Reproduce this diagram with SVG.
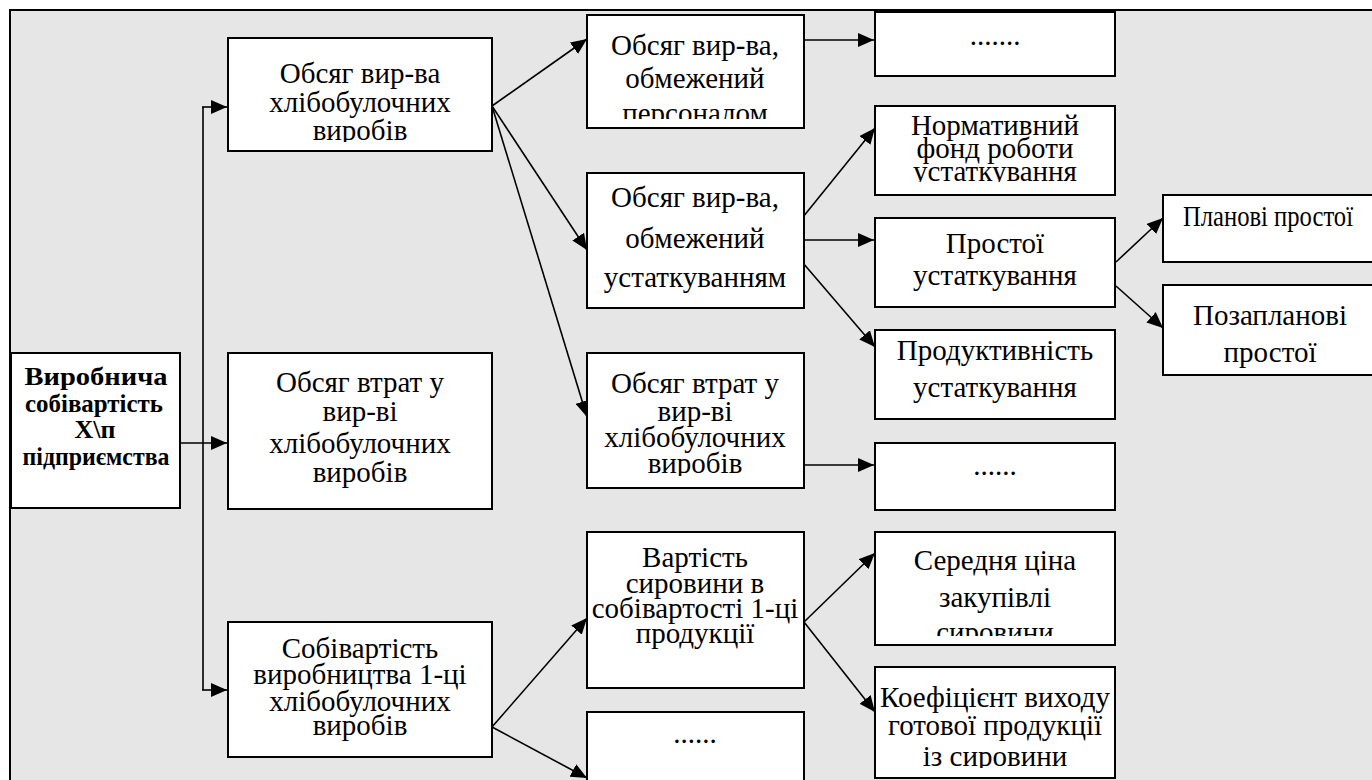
<svg xmlns="http://www.w3.org/2000/svg" width="1372" height="780" viewBox="0 0 1372 780">
<style>
.box{fill:#fff;stroke:#000;stroke-width:2}
.t{font-family:'Liberation Serif','Times New Roman',serif;font-size:29px;fill:#000;text-anchor:middle}
.b{font-family:'Liberation Serif','Times New Roman',serif;font-size:26px;font-weight:bold;fill:#000;text-anchor:middle}
.c{fill:none;stroke:#000;stroke-width:1.6}
</style>
<defs>
<marker id="ah" markerUnits="userSpaceOnUse" markerWidth="17" markerHeight="14" refX="16" refY="7" orient="auto">
<path d="M0,0 L16,7 L0,14 z" fill="#000"/>
</marker>
<clipPath id="cA"><rect x="228" y="38" width="264" height="104"/></clipPath>
<clipPath id="cD"><rect x="587" y="15" width="217" height="104"/></clipPath>
<clipPath id="cF"><rect x="587" y="353" width="217" height="123"/></clipPath>
<clipPath id="cJ"><rect x="875" y="106" width="240" height="76"/></clipPath>
<clipPath id="cN"><rect x="875" y="532" width="240" height="104"/></clipPath>
<clipPath id="cO"><rect x="875" y="667" width="240" height="101"/></clipPath>
</defs>
<rect x="10" y="10" width="1400" height="820" fill="#e6e6e6" stroke="#000" stroke-width="2"/>

<g id="connectors">
<line class="c" x1="180" y1="443" x2="227" y2="443" marker-end="url(#ah)"/>
<line class="c" x1="203" y1="107" x2="203" y2="690"/>
<line class="c" x1="202" y1="107" x2="227" y2="107" marker-end="url(#ah)"/>
<line class="c" x1="202" y1="690" x2="227" y2="690" marker-end="url(#ah)"/>
<line class="c" x1="492" y1="106" x2="587" y2="39" marker-end="url(#ah)"/>
<line class="c" x1="492" y1="106" x2="587" y2="250" marker-end="url(#ah)"/>
<line class="c" x1="492" y1="106" x2="587" y2="417" marker-end="url(#ah)"/>
<line class="c" x1="804" y1="40" x2="874" y2="40" marker-end="url(#ah)"/>
<line class="c" x1="803" y1="217" x2="875" y2="128" marker-end="url(#ah)"/>
<line class="c" x1="803" y1="240" x2="874" y2="240" marker-end="url(#ah)"/>
<line class="c" x1="803" y1="263" x2="875" y2="347" marker-end="url(#ah)"/>
<line class="c" x1="804" y1="465" x2="874" y2="465" marker-end="url(#ah)"/>
<line class="c" x1="1116" y1="262" x2="1163" y2="218" marker-end="url(#ah)"/>
<line class="c" x1="1116" y1="286" x2="1163" y2="328" marker-end="url(#ah)"/>
<line class="c" x1="492" y1="727" x2="587" y2="618" marker-end="url(#ah)"/>
<line class="c" x1="492" y1="727" x2="587" y2="778" marker-end="url(#ah)"/>
<line class="c" x1="804" y1="622" x2="875" y2="553" marker-end="url(#ah)"/>
<line class="c" x1="804" y1="622" x2="875" y2="712" marker-end="url(#ah)"/>
</g>

<g id="root">
<rect class="box" x="11" y="353" width="169" height="155"/>
<text class="b" x="96" y="385" textLength="143" lengthAdjust="spacingAndGlyphs">Виробнича</text>
<text class="b" x="94" y="412" textLength="138" lengthAdjust="spacingAndGlyphs">собівартість</text>
<text class="b" x="95" y="438">Х\п</text>
<text class="b" x="96" y="465" textLength="147" lengthAdjust="spacingAndGlyphs">підприємства</text>
</g>

<g id="nodeA">
<rect class="box" x="228" y="38" width="264" height="113"/>
<g clip-path="url(#cA)">
<text class="t" x="360" y="83">Обсяг вир-ва</text>
<text class="t" x="360" y="112">хлібобулочних</text>
<text class="t" x="360" y="140">виробів</text>
</g>
</g>

<g id="nodeB">
<rect class="box" x="228" y="353" width="264" height="156"/>
<text class="t" x="360" y="392">Обсяг втрат у</text>
<text class="t" x="360" y="421">вир-ві</text>
<text class="t" x="360" y="453">хлібобулочних</text>
<text class="t" x="360" y="482">виробів</text>
</g>

<g id="nodeC">
<rect class="box" x="228" y="622" width="264" height="135"/>
<text class="t" x="360" y="658">Собівартість</text>
<text class="t" x="360" y="684">виробництва 1-ці</text>
<text class="t" x="360" y="711">хлібобулочних</text>
<text class="t" x="360" y="735">виробів</text>
</g>

<g id="nodeD">
<rect class="box" x="587" y="15" width="217" height="113"/>
<g clip-path="url(#cD)">
<text class="t" x="695" y="55">Обсяг вир-ва,</text>
<text class="t" x="695" y="88">обмежений</text>
<text class="t" x="695" y="123">персоналом</text>
</g>
</g>

<g id="nodeE">
<rect class="box" x="587" y="173" width="217" height="135"/>
<text class="t" x="695" y="207">Обсяг вир-ва,</text>
<text class="t" x="695" y="248">обмежений</text>
<text class="t" x="695" y="287">устаткуванням</text>
</g>

<g id="nodeF">
<rect class="box" x="587" y="353" width="217" height="135"/>
<g clip-path="url(#cF)">
<text class="t" x="695" y="393">Обсяг втрат у</text>
<text class="t" x="695" y="421">вир-ві</text>
<text class="t" x="695" y="447">хлібобулочних</text>
<text class="t" x="695" y="473">виробів</text>
</g>
</g>

<g id="nodeG">
<rect class="box" x="587" y="532" width="217" height="156"/>
<text class="t" x="695" y="567">Вартість</text>
<text class="t" x="695" y="593">сировини в</text>
<text class="t" x="695" y="618">собівартості 1-ці</text>
<text class="t" x="695" y="643">продукції</text>
</g>

<g id="nodeH">
<rect class="box" x="587" y="712" width="217" height="90"/>
<text class="t" x="695" y="743">......</text>
</g>

<g id="nodeI">
<rect class="box" x="875" y="12" width="240" height="64"/>
<text class="t" x="995" y="45">.......</text>
</g>

<g id="nodeJ">
<rect class="box" x="875" y="106" width="240" height="89"/>
<g clip-path="url(#cJ)">
<text class="t" x="995" y="135">Нормативний</text>
<text class="t" x="995" y="158">фонд роботи</text>
<text class="t" x="995" y="181">устаткування</text>
</g>
</g>

<g id="nodeK">
<rect class="box" x="875" y="218" width="240" height="89"/>
<text class="t" x="995" y="253">Простої</text>
<text class="t" x="995" y="285">устаткування</text>
</g>

<g id="nodeL">
<rect class="box" x="875" y="330" width="240" height="89"/>
<text class="t" x="995" y="360">Продуктивність</text>
<text class="t" x="995" y="397">устаткування</text>
</g>

<g id="nodeM">
<rect class="box" x="875" y="443" width="240" height="67"/>
<text class="t" x="995" y="475">......</text>
</g>

<g id="nodeN">
<rect class="box" x="875" y="532" width="240" height="113"/>
<g clip-path="url(#cN)">
<text class="t" x="995" y="570">Середня ціна</text>
<text class="t" x="995" y="607">закупівлі</text>
<text class="t" x="995" y="642">сировини</text>
</g>
</g>

<g id="nodeO">
<rect class="box" x="875" y="667" width="240" height="111"/>
<g clip-path="url(#cO)">
<text class="t" x="995" y="707">Коефіцієнт виходу</text>
<text class="t" x="995" y="735">готової продукції</text>
<text class="t" x="995" y="766">із сировини</text>
</g>
</g>

<g id="nodeP">
<rect class="box" x="1163" y="195" width="220" height="67"/>
<text class="t" x="1268" y="226" textLength="170" lengthAdjust="spacingAndGlyphs">Планові простої</text>
</g>

<g id="nodeQ">
<rect class="box" x="1163" y="285" width="220" height="90"/>
<text class="t" x="1270" y="325">Позапланові</text>
<text class="t" x="1270" y="362">простої</text>
</g>
</svg>
